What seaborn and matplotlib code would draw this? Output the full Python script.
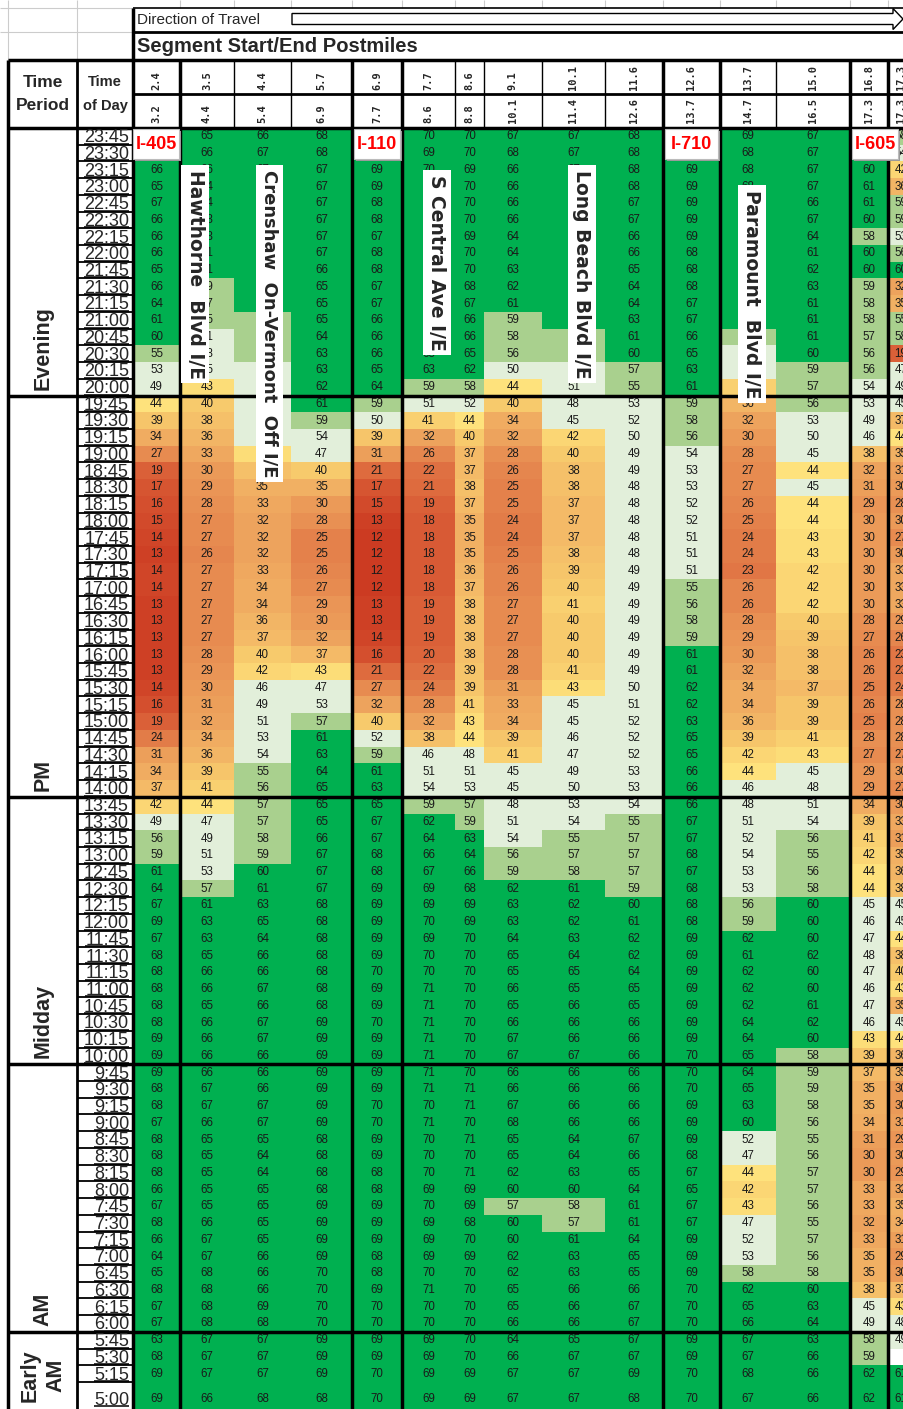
import numpy as np
import pandas as pd
import matplotlib
matplotlib.use('Agg')
import matplotlib.pyplot as plt
import seaborn as sns
from matplotlib.colors import ListedColormap, LinearSegmentedColormap
from matplotlib.patches import Polygon, Rectangle

sns.set_theme(style='white')
plt.rcParams['font.family'] = ['Liberation Sans', 'DejaVu Sans']

# segment postmiles (start / end)
pm_start = ['2.4', '3.5', '4.4', '5.7', '6.9', '7.7', '8.6', '9.1', '10.1', '11.6', '12.6', '13.7', '15.0', '16.8', '17.3']
pm_end = ['3.2', '4.4', '5.4', '6.9', '7.7', '8.6', '8.8', '10.1', '11.4', '12.6', '13.7', '14.7', '16.5', '17.3', '17.3']

# time of day, 23:45 at the top down to 5:00
times = [t.strftime('%-H:%M') for t in pd.date_range('05:00', '23:45', freq='15min')[::-1]]

periods = ['Evening', 'PM', 'Midday', 'AM', 'Early\nAM']

# speeds (mph), one row per 15 min, columns follow pm_start
evening = [
    [66, 65, 66, 68, 70, 70, 70, 67, 67, 68, 69, 69, 67, 61, 58],
    [66, 66, 67, 68, 69, 69, 70, 68, 67, 68, 69, 68, 67, 61, 54],
    [66, 66, 67, 67, 69, 70, 69, 66, 67, 68, 69, 68, 67, 60, 42],
    [65, 64, 66, 67, 69, 70, 70, 66, 67, 68, 69, 68, 67, 61, 36],
    [67, 64, 66, 67, 68, 70, 70, 66, 67, 67, 69, 68, 66, 61, 59],
    [66, 63, 66, 67, 68, 69, 70, 66, 66, 67, 69, 68, 67, 60, 59],
    [66, 63, 65, 67, 67, 70, 69, 64, 65, 66, 69, 67, 64, 58, 53],
    [66, 61, 65, 67, 68, 70, 70, 64, 65, 66, 68, 67, 61, 60, 56],
    [65, 61, 64, 66, 68, 68, 70, 63, 64, 65, 68, 66, 62, 60, 60],
    [66, 59, 63, 65, 67, 67, 68, 62, 63, 64, 68, 65, 63, 59, 32],
    [64, 57, 62, 65, 67, 66, 67, 61, 62, 64, 67, 64, 61, 58, 35],
    [61, 55, 59, 65, 66, 66, 66, 59, 61, 63, 67, 62, 61, 58, 55],
    [60, 51, 57, 64, 66, 66, 66, 58, 59, 61, 66, 59, 61, 57, 58],
    [55, 48, 56, 63, 66, 65, 65, 56, 57, 60, 65, 54, 60, 56, 19],
    [53, 45, 54, 63, 65, 63, 62, 50, 53, 57, 63, 50, 59, 56, 47],
    [49, 43, 52, 62, 64, 59, 58, 44, 51, 55, 61, 41, 57, 54, 49],
]
pm = [
    [44, 40, 50, 61, 59, 51, 52, 40, 48, 53, 59, 36, 56, 53, 45],
    [39, 38, 48, 59, 50, 41, 44, 34, 45, 52, 58, 32, 53, 49, 37],
    [34, 36, 46, 54, 39, 32, 40, 32, 42, 50, 56, 30, 50, 46, 44],
    [27, 33, 43, 47, 31, 26, 37, 28, 40, 49, 54, 28, 45, 38, 35],
    [19, 30, 38, 40, 21, 22, 37, 26, 38, 49, 53, 27, 44, 32, 31],
    [17, 29, 35, 35, 17, 21, 38, 25, 38, 48, 53, 27, 45, 31, 30],
    [16, 28, 33, 30, 15, 19, 37, 25, 37, 48, 52, 26, 44, 29, 28],
    [15, 27, 32, 28, 13, 18, 35, 24, 37, 48, 52, 25, 44, 30, 30],
    [14, 27, 32, 25, 12, 18, 35, 24, 37, 48, 51, 24, 43, 30, 27],
    [13, 26, 32, 25, 12, 18, 35, 25, 38, 48, 51, 24, 43, 30, 30],
    [14, 27, 33, 26, 12, 18, 36, 26, 39, 49, 51, 23, 42, 30, 33],
    [14, 27, 34, 27, 12, 18, 37, 26, 40, 49, 55, 26, 42, 30, 33],
    [13, 27, 34, 29, 13, 19, 38, 27, 41, 49, 56, 26, 42, 30, 33],
    [13, 27, 36, 30, 13, 19, 38, 27, 40, 49, 58, 28, 40, 28, 29],
    [13, 27, 37, 32, 14, 19, 38, 27, 40, 49, 59, 29, 39, 27, 26],
    [13, 28, 40, 37, 16, 20, 38, 28, 40, 49, 61, 30, 38, 26, 23],
    [13, 29, 42, 43, 21, 22, 39, 28, 41, 49, 61, 32, 38, 26, 23],
    [14, 30, 46, 47, 27, 24, 39, 31, 43, 50, 62, 34, 37, 25, 24],
    [16, 31, 49, 53, 32, 28, 41, 33, 45, 51, 62, 34, 39, 26, 28],
    [19, 32, 51, 57, 40, 32, 43, 34, 45, 52, 63, 36, 39, 25, 28],
    [24, 34, 53, 61, 52, 38, 44, 39, 46, 52, 65, 39, 41, 28, 28],
    [31, 36, 54, 63, 59, 46, 48, 41, 47, 52, 65, 42, 43, 27, 27],
    [34, 39, 55, 64, 61, 51, 51, 45, 49, 53, 66, 44, 45, 29, 30],
    [37, 41, 56, 65, 63, 54, 53, 45, 50, 53, 66, 46, 48, 29, 27],
]
midday = [
    [42, 44, 57, 65, 65, 59, 57, 48, 53, 54, 66, 48, 51, 34, 30],
    [49, 47, 57, 65, 67, 62, 59, 51, 54, 55, 67, 51, 54, 39, 33],
    [56, 49, 58, 66, 67, 64, 63, 54, 55, 57, 67, 52, 56, 41, 31],
    [59, 51, 59, 67, 68, 66, 64, 56, 57, 57, 68, 54, 55, 42, 35],
    [61, 53, 60, 67, 68, 67, 66, 59, 58, 57, 67, 53, 56, 44, 36],
    [64, 57, 61, 67, 69, 69, 68, 62, 61, 59, 68, 53, 58, 44, 38],
    [67, 61, 63, 68, 69, 69, 69, 63, 62, 60, 68, 56, 60, 45, 45],
    [69, 63, 65, 68, 69, 70, 69, 63, 62, 61, 68, 59, 60, 46, 45],
    [67, 63, 64, 68, 69, 69, 70, 64, 63, 62, 69, 62, 60, 47, 44],
    [68, 65, 66, 68, 69, 70, 70, 65, 64, 62, 69, 61, 62, 48, 38],
    [68, 66, 66, 68, 70, 70, 70, 65, 65, 64, 69, 62, 60, 47, 40],
    [68, 66, 67, 68, 69, 71, 70, 66, 65, 65, 69, 62, 60, 46, 43],
    [68, 65, 66, 68, 69, 71, 70, 65, 66, 65, 69, 62, 61, 47, 35],
    [68, 66, 67, 69, 70, 71, 70, 66, 66, 66, 69, 64, 62, 46, 45],
    [69, 66, 67, 69, 69, 71, 70, 67, 66, 66, 69, 64, 60, 43, 44],
    [69, 66, 66, 69, 69, 71, 70, 67, 67, 66, 70, 65, 58, 39, 36],
]
am = [
    [69, 66, 66, 69, 69, 71, 70, 66, 66, 66, 70, 64, 59, 37, 35],
    [68, 67, 66, 69, 69, 71, 71, 66, 66, 66, 70, 65, 59, 35, 30],
    [68, 67, 67, 69, 70, 70, 71, 67, 66, 66, 69, 63, 58, 35, 30],
    [67, 66, 67, 69, 70, 71, 70, 68, 66, 66, 69, 60, 56, 34, 31],
    [68, 65, 65, 68, 69, 70, 71, 65, 64, 67, 69, 52, 55, 31, 29],
    [68, 65, 64, 68, 69, 70, 70, 65, 64, 66, 68, 47, 56, 30, 30],
    [68, 65, 64, 68, 68, 70, 71, 62, 63, 65, 67, 44, 57, 30, 29],
    [66, 65, 65, 68, 68, 69, 69, 60, 60, 64, 65, 42, 57, 33, 32],
    [67, 65, 65, 69, 69, 70, 69, 57, 58, 61, 67, 43, 56, 33, 35],
    [68, 66, 65, 69, 69, 69, 68, 60, 57, 61, 67, 47, 55, 32, 34],
    [66, 67, 65, 69, 69, 69, 70, 60, 61, 64, 69, 52, 57, 33, 31],
    [64, 67, 66, 69, 68, 69, 69, 62, 63, 65, 69, 53, 56, 35, 29],
    [65, 68, 66, 70, 68, 70, 70, 62, 63, 65, 69, 58, 58, 35, 30],
    [68, 68, 66, 70, 69, 71, 70, 65, 66, 66, 70, 62, 60, 38, 37],
    [67, 68, 69, 70, 70, 70, 70, 65, 66, 67, 70, 65, 63, 45, 43],
    [67, 68, 68, 70, 70, 70, 70, 66, 66, 67, 70, 66, 64, 49, 48],
]
early_am = [
    [63, 67, 67, 69, 69, 69, 70, 64, 65, 67, 69, 67, 63, 58, 49],
    [68, 67, 67, 69, 69, 69, 70, 66, 67, 67, 69, 67, 66, 59, np.nan],
    [69, 67, 67, 69, 70, 69, 69, 67, 67, 69, 70, 68, 66, 62, 61],
    [69, 66, 68, 68, 70, 69, 69, 67, 67, 68, 70, 67, 66, 62, 61],
]

blocks = [evening, pm, midday, am, early_am]
df = pd.DataFrame(np.array(evening + pm + midday + am + early_am, dtype=float),
                  index=times, columns=pm_start)

# ---- layout (pixels) ----
W, H = 904, 1409
LEFT, TOP, ROW_H = 133, 128, 16.72
col_w = [47, 54, 57, 61, 50, 53, 29, 58, 63, 58, 57, 56, 74, 38, 26]
row_units = [1] * (len(times) - 1) + [2]
thick_after = [0, 3, 4, 9, 10, 12, 13]

# ---- colours: green bands above 45, yellow->red below ----
hot = LinearSegmentedColormap.from_list('hot', [
    (0.0, '#CC3B22'), (4 / 32, '#D44F2E'), (8 / 32, '#DC653B'), (13 / 32, '#E4814B'),
    (18 / 32, '#EB9A58'), (23 / 32, '#F1B063'), (28 / 32, '#F7C96C'), (1.0, '#FEE27C')])
palette = []
for v in range(81):
    if v >= 60:
        palette.append('#00B050')
    elif v >= 55:
        palette.append('#A9D08E')
    elif v >= 45:
        palette.append('#E2EFDA')
    else:
        palette.append(hot(np.clip((v - 12) / 32, 0, 1)))
cmap = ListedColormap(palette)

# stretch cells so columns / last row get their real widths
grid = np.repeat(np.repeat(df.to_numpy(), row_units, axis=0), col_w, axis=1)

fig = plt.figure(figsize=(W / 100, H / 100), dpi=100)
n_units = sum(row_units)
ax = fig.add_axes([LEFT / W, 1 - (TOP + n_units * ROW_H) / H, sum(col_w) / W, n_units * ROW_H / H])
sns.heatmap(grid, cmap=cmap, vmin=-0.5, vmax=80.5, cbar=False,
            xticklabels=False, yticklabels=False, ax=ax, rasterized=True)
ax.set_facecolor('white')

col_edges = np.concatenate([[0], np.cumsum(col_w)])
col_mid = (col_edges[:-1] + col_edges[1:]) / 2
row_edges = np.concatenate([[0], np.cumsum(row_units)])
row_mid = (row_edges[:-1] + row_edges[1:]) / 2

for i in range(len(times)):
    for j in range(len(pm_start)):
        v = df.iat[i, j]
        if np.isnan(v):
            continue
        ax.text(col_mid[j], row_mid[i], f'{int(v)}', ha='center', va='center',
                fontsize=8.3, color='#1a1a1a')

# ---- overlay in pixel coordinates for the table frame and labels ----
ov = fig.add_axes([0, 0, 1, 1], zorder=3)
ov.set_xlim(0, W)
ov.set_ylim(H, 0)
ov.axis('off')
ov.patch.set_alpha(0)


def py(u):
    return TOP + u * ROW_H


def line(x0, x1, y0, y1, lw=2.5, color='black'):
    ov.plot([x0, x1], [y0, y1], color=color, lw=lw, solid_capstyle='butt')


xe = LEFT + col_edges
bottom = H + 10

# light sheet gridlines in the top-left corner
for x in [8, 77]:
    line(x, x, 0, 60, lw=0.8, color='#CCCCCC')
for y in [8, 32]:
    line(0, LEFT, y, y, lw=0.8, color='#CCCCCC')
for x in xe[1:]:
    line(x, x, 0, 8, lw=0.8, color='#CCCCCC')

# header frame
line(LEFT, W, 8, 8, lw=1.2)
line(LEFT, W, 32, 32, lw=2)
line(8, W, 60, 60, lw=2.5)
line(LEFT, W, 94, 94, lw=2)
line(8, W, TOP, TOP, lw=2.5)
line(LEFT, LEFT, 8, bottom, lw=2.5)
line(8, 8, 60, bottom, lw=2.5)
line(77, 77, 60, bottom, lw=2)
for k, x in enumerate(xe[1:-1]):
    if k in thick_after:
        line(x, x, 60, bottom, lw=2.5)
    else:
        line(x, x, 60, TOP, lw=1)

# period boundaries
ends = np.cumsum([len(b) for b in blocks])
for e in ends[:-1]:
    line(8, W, py(row_edges[e]), py(row_edges[e]), lw=2.5)

# direction of travel arrow
ov.text(137, 20, 'Direction of Travel', ha='left', va='center', fontsize=11)
ov.add_patch(Polygon([[292, 13.5], [893, 13.5], [893, 8.5], [903, 19], [893, 29.5],
                      [893, 24.5], [292, 24.5]], closed=True, fc='white', ec='black', lw=1))
ov.text(137, 46, 'Segment Start/End Postmiles', ha='left', va='center', fontsize=14.5,
        weight='bold')

# column headers
ov.text(43, 94, 'Time\nPeriod', ha='center', va='center', fontsize=12.5, weight='bold', linespacing=1.6)
ov.text(105, 94, 'Time\nof Day', ha='center', va='center', fontsize=10.5, weight='bold', linespacing=1.9)
for j in range(len(pm_start)):
    for label, base in [(pm_start[j], 90), (pm_end[j], 123)]:
        ov.text(LEFT + col_mid[j], base, label, rotation=90, rotation_mode='anchor',
                ha='left', va='center', fontsize=7.5, family='DejaVu Sans Mono', weight='bold')

# time-of-day labels, each boxed and underlined
for e in row_edges[1:-1]:
    line(78, LEFT, py(e), py(e), lw=1.3)
tlabels = []
for i, t in enumerate(times):
    if row_units[i] > 1:
        base = py(row_mid[i]) + 6
    else:
        base = py(row_edges[i + 1]) - 2.5
    tlabels.append((ov.text(129, base, t, ha='right', va='baseline', fontsize=13), base))
renderer = fig.canvas.get_renderer()
inv = ov.transData.inverted()
for txt, base in tlabels:
    bb = txt.get_window_extent(renderer=renderer)
    x0 = inv.transform((bb.x0, bb.y0))[0]
    x1 = inv.transform((bb.x1, bb.y0))[0]
    line(x0, x1, base + 1.5, base + 1.5, lw=1.1)

# time period labels
start = 0
for name, e in zip(periods, ends):
    if '\n' in name:
        ov.text(43, (py(row_edges[start]) + py(row_edges[e])) / 2 + 2, name, rotation=90,
                ha='center', va='center', fontsize=15.5, weight='bold', linespacing=1.3,
                multialignment='center')
    else:
        ov.text(43, py(row_edges[e]) - 6, name, rotation=90, ha='center', va='bottom',
                fontsize=15.5, weight='bold')
    start = e

# freeway labels
for name, j, dx in [('I-405', 0, 0), ('I-110', 4, 0), ('I-710', 10, 0), ('I-605', 13, 6)]:
    cx = LEFT + col_mid[j] + dx
    bw = max(col_w[j] - 4, 46)
    ov.add_patch(Rectangle((cx - bw / 2 + 2, py(0) + 3), bw, 2 * ROW_H - 3, fc='#9a9a9a', ec='none', zorder=4))
    ov.add_patch(Rectangle((cx - bw / 2, py(0) + 1), bw, 2 * ROW_H - 3, fc='white', ec='#BBBBBB', lw=0.8, zorder=4))
    ov.text(cx, py(1), name, ha='center', va='center', color='#FF0000', fontsize=13,
            weight='bold', zorder=5)

# interchange labels
for name, j, frac, top in [('Hawthorne  Blvd I/E', 1, 0.28, 2.5),
                           ('Crenshaw  On-Vermont  Off I/E', 2, 0.63, 2.5),
                           ('S Central Ave I/E', 5, 0.66, 2.8),
                           ('Long Beach Blvd I/E', 8, 0.63, 2.5),
                           ('Paramount  Blvd I/E', 11, 0.57, 3.7)]:
    ov.text(xe[j] + frac * col_w[j], py(top), name, rotation=270, ha='center', va='top',
            fontsize=13.5 if len(name) < 22 else 13, weight='bold', family='DejaVu Sans', zorder=5,
            bbox=dict(boxstyle='square,pad=0.25', fc='white', ec='none'))

fig.savefig('out.png', dpi=100)
